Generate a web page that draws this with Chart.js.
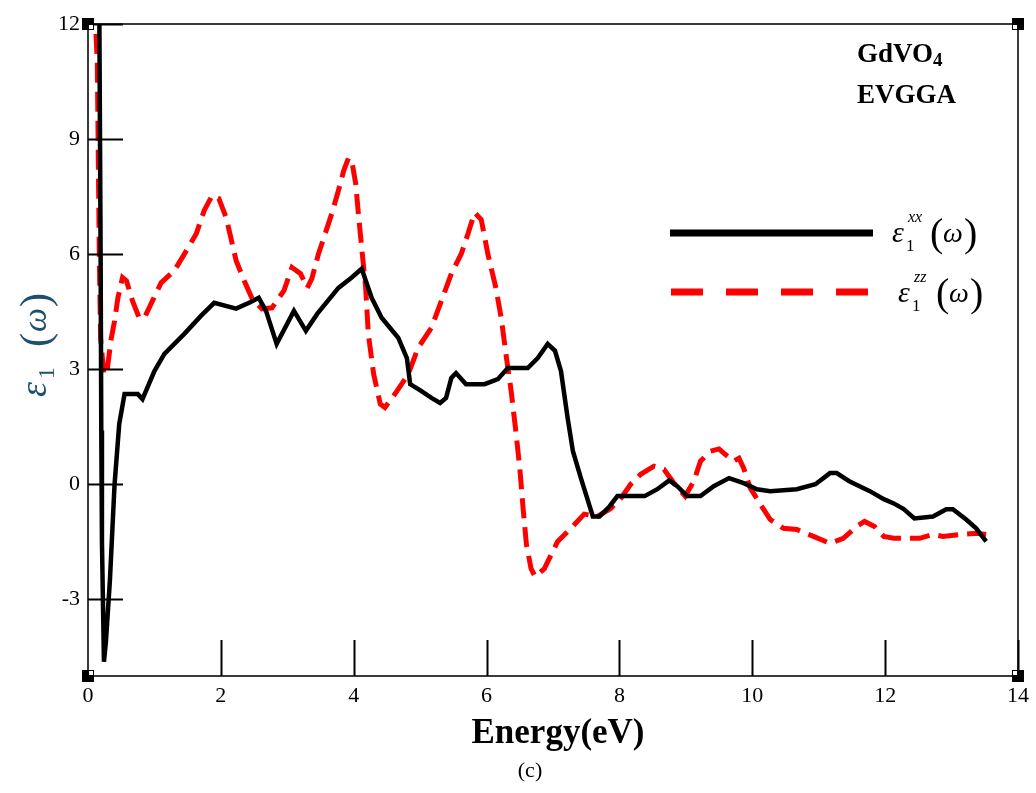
<!DOCTYPE html>
<html>
<head>
<meta charset="utf-8">
<title>GdVO4 EVGGA</title>
<script src="https://cdn.jsdelivr.net/npm/chart.js@4/dist/chart.umd.min.js"></script>
<style>
  html, body { margin: 0; padding: 0; background: #fff; }
  #wrap { width: 1036px; height: 793px; position: relative; }
</style>
</head>
<body>
<div id="wrap"><canvas id="grafica"></canvas></div>
<script>
// eje x y eje y
const X_TICKS = [0, 2, 4, 6, 8, 10, 12, 14];
const Y_TICKS = [-3, 0, 3, 6, 9, 12];

// epsilon_1 xx (linea continua negra)
const xxEnergia = [0.17, 0.19, 0.20, 0.21, 0.24, 0.27, 0.33, 0.40, 0.47, 0.55, 0.75, 0.82, 1.00, 1.15, 1.45, 1.70, 1.90, 2.23, 2.45, 2.57, 2.68, 2.84, 3.10, 3.28, 3.45, 3.77, 3.97, 4.12, 4.27, 4.42, 4.67, 4.80, 4.85, 5.02, 5.17, 5.30, 5.39, 5.47, 5.54, 5.69, 5.97, 6.17, 6.32, 6.62, 6.77, 6.92, 7.03, 7.12, 7.22, 7.30, 7.42, 7.60, 7.70, 7.85, 7.97, 8.38, 8.57, 8.75, 8.87, 9.02, 9.22, 9.42, 9.65, 9.87, 10.07, 10.27, 10.67, 10.95, 11.17, 11.27, 11.46, 11.77, 11.98, 12.13, 12.28, 12.44, 12.72, 12.92, 13.02, 13.22, 13.37, 13.52];
const xxEps = [12.5, 6.0, 1.4, -1.5, -4.63, -4.1, -2.5, 0.0, 1.57, 2.35, 2.35, 2.22, 2.95, 3.40, 3.92, 4.39, 4.73, 4.58, 4.75, 4.86, 4.52, 3.66, 4.52, 4.00, 4.44, 5.12, 5.39, 5.62, 4.86, 4.34, 3.82, 3.29, 2.61, 2.43, 2.25, 2.12, 2.25, 2.77, 2.90, 2.61, 2.61, 2.74, 3.03, 3.03, 3.29, 3.66, 3.48, 2.95, 1.73, 0.86, 0.16, -0.84, -0.84, -0.58, -0.31, -0.31, -0.13, 0.10, -0.05, -0.31, -0.31, -0.05, 0.16, 0.03, -0.13, -0.18, -0.13, 0.0, 0.29, 0.29, 0.08, -0.18, -0.39, -0.50, -0.65, -0.89, -0.84, -0.65, -0.65, -0.92, -1.15, -1.49];

// epsilon_1 zz (linea discontinua roja)
const zzEnergia = [0.10, 0.14, 0.17, 0.19, 0.24, 0.29, 0.35, 0.40, 0.45, 0.52, 0.58, 0.67, 0.77, 0.85, 0.97, 1.10, 1.30, 1.45, 1.63, 1.75, 1.87, 1.97, 2.08, 2.15, 2.23, 2.35, 2.47, 2.62, 2.77, 2.95, 3.07, 3.20, 3.30, 3.37, 3.47, 3.57, 3.67, 3.77, 3.85, 3.92, 3.97, 4.03, 4.07, 4.12, 4.18, 4.22, 4.30, 4.40, 4.47, 4.62, 4.82, 4.97, 5.17, 5.32, 5.47, 5.62, 5.72, 5.82, 5.92, 6.02, 6.14, 6.22, 6.30, 6.37, 6.44, 6.50, 6.55, 6.60, 6.67, 6.73, 6.87, 7.07, 7.27, 7.47, 7.67, 7.87, 8.02, 8.17, 8.32, 8.52, 8.67, 8.82, 8.99, 9.12, 9.22, 9.37, 9.50, 9.57, 9.72, 9.80, 9.87, 9.97, 10.12, 10.27, 10.47, 10.67, 10.92, 11.17, 11.37, 11.57, 11.69, 11.84, 11.98, 12.13, 12.52, 12.72, 12.87, 13.12, 13.37, 13.52];
const zzEps = [12.5, 11.0, 6.0, 3.8, 2.85, 3.0, 3.8, 4.26, 4.86, 5.39, 5.30, 4.78, 4.34, 4.34, 4.78, 5.25, 5.57, 6.00, 6.53, 7.14, 7.53, 7.45, 6.95, 6.43, 5.83, 5.31, 4.84, 4.57, 4.60, 5.05, 5.65, 5.49, 5.12, 5.36, 6.01, 6.53, 7.06, 7.66, 8.18, 8.50, 8.44, 7.84, 7.06, 6.17, 5.12, 3.92, 2.87, 2.09, 2.00, 2.35, 2.87, 3.56, 4.08, 4.78, 5.49, 6.01, 6.53, 7.08, 6.90, 6.00, 5.12, 4.34, 3.29, 2.43, 1.39, 0.42, -0.63, -1.57, -2.20, -2.41, -2.20, -1.49, -1.15, -0.78, -0.84, -0.63, -0.37, 0.0, 0.26, 0.47, 0.39, 0.03, -0.31, 0.08, 0.60, 0.86, 0.92, 0.81, 0.60, 0.68, 0.42, -0.10, -0.52, -0.92, -1.15, -1.18, -1.36, -1.54, -1.41, -1.10, -0.97, -1.10, -1.36, -1.41, -1.41, -1.31, -1.36, -1.31, -1.28, -1.31];

const aPuntos = (xs, ys) => xs.map((x, i) => ({ x: x, y: ys[i] }));

const SERIF = '"Liberation Serif", "Times New Roman", serif';

// marco, marcas interiores, textos y leyenda
const decoracion = {
    id: 'decoracion',
    afterDatasetsDraw(chart) {
        const ctx = chart.ctx;
        const a = chart.chartArea;
        const sx = chart.scales.x;
        const sy = chart.scales.y;
        ctx.save();

        // marco
        ctx.strokeStyle = '#3a3a3a';
        ctx.lineWidth = 2;
        ctx.strokeRect(a.left, a.top, a.right - a.left, a.bottom - a.top);

        // marcas hacia dentro
        ctx.strokeStyle = '#000';
        ctx.lineWidth = 2;
        Y_TICKS.forEach(v => {
            const py = Math.round(sy.getPixelForValue(v)) + 0.5;
            ctx.beginPath();
            ctx.moveTo(a.left, py);
            ctx.lineTo(a.left + 35, py);
            ctx.stroke();
        });
        X_TICKS.slice(1).forEach(v => {
            const px = Math.round(sx.getPixelForValue(v)) + 0.5;
            ctx.beginPath();
            ctx.moveTo(px, a.bottom);
            ctx.lineTo(px, a.bottom - 36);
            ctx.stroke();
        });

        // cuadritos de las esquinas
        [[a.left, a.top], [a.right, a.top], [a.left, a.bottom], [a.right, a.bottom]].forEach(([cx, cy]) => {
            ctx.fillStyle = '#000';
            ctx.fillRect(cx - 6, cy - 6, 12, 12);
            ctx.fillStyle = '#fff';
            ctx.fillRect(cx - (cx === a.left ? -1 : 5), cy - (cy === a.top ? -1 : 5), 4, 4);
        });

        // GdVO4 / EVGGA
        ctx.fillStyle = '#000';
        ctx.textBaseline = 'alphabetic';
        ctx.textAlign = 'left';
        ctx.font = 'bold 27px ' + SERIF;
        ctx.fillText('GdVO', 857, 62);
        const wG = ctx.measureText('GdVO').width;
        ctx.font = 'bold 19px ' + SERIF;
        ctx.fillText('4', 857 + wG, 66);
        ctx.font = 'bold 27px ' + SERIF;
        ctx.fillText('EVGGA', 857, 103);

        // leyenda
        ctx.lineCap = 'butt';
        ctx.strokeStyle = '#000';
        ctx.lineWidth = 7;
        ctx.beginPath();
        ctx.moveTo(670, 233);
        ctx.lineTo(873, 233);
        ctx.stroke();
        ctx.strokeStyle = '#ff0000';
        ctx.setLineDash([32, 23]);
        ctx.beginPath();
        ctx.moveTo(671, 292);
        ctx.lineTo(870, 292);
        ctx.stroke();
        ctx.setLineDash([]);

        const etiqueta = (x, base, sup) => {
            ctx.fillStyle = '#000';
            ctx.font = 'italic 30px ' + SERIF;
            ctx.fillText('\u03b5', x, base);
            ctx.font = '17px ' + SERIF;
            ctx.fillText('1', x + 14, base + 9);
            ctx.font = 'italic 16px ' + SERIF;
            ctx.fillText(sup, x + 16, base - 20);
            ctx.font = '40px ' + SERIF;
            ctx.fillText('(', x + 38, base + 4);
            ctx.font = 'italic 28px ' + SERIF;
            ctx.fillText('\u03c9', x + 51, base);
            ctx.font = '40px ' + SERIF;
            ctx.fillText(')', x + 72, base + 4);
        };
        etiqueta(892, 242, 'xx');
        etiqueta(898, 302, 'zz');

        // titulo del eje y
        ctx.save();
        ctx.translate(46, 335);
        ctx.rotate(-Math.PI / 2);
        ctx.fillStyle = '#1f4f6e';
        ctx.font = 'italic 38px ' + SERIF;
        ctx.fillText('\u03b5', -62, 0);
        ctx.font = '24px ' + SERIF;
        ctx.fillText('1', -44, 8);
        ctx.font = '42px ' + SERIF;
        ctx.fillText('(', -12, 3);
        ctx.font = 'italic 34px ' + SERIF;
        ctx.fillText('\u03c9', 3, 0);
        ctx.font = '42px ' + SERIF;
        ctx.fillText(')', 28, 3);
        ctx.restore();

        // titulo del eje x y (c)
        ctx.fillStyle = '#000';
        ctx.textAlign = 'center';
        ctx.font = 'bold 35px ' + SERIF;
        ctx.fillText('Energy(eV)', 558, 743);
        ctx.font = '22px ' + SERIF;
        ctx.fillText('(c)', 530, 777);

        ctx.restore();
    }
};

const crearGrafica = () => {
    const canvas = document.getElementById('grafica');
    canvas.width = 1036;
    canvas.height = 793;
    const ctx = canvas.getContext('2d');

    new Chart(ctx, {
        type: 'scatter',
        data: {
            datasets: [
                {
                    label: 'eps1 xx',
                    data: aPuntos(xxEnergia, xxEps),
                    showLine: true,
                    borderColor: '#000',
                    borderWidth: 4.5,
                    pointRadius: 0,
                    tension: 0
                },
                {
                    label: 'eps1 zz',
                    data: aPuntos(zzEnergia, zzEps),
                    showLine: true,
                    borderColor: '#ff0000',
                    borderWidth: 5,
                    borderDash: [20, 9],
                    pointRadius: 0,
                    tension: 0
                }
            ]
        },
        options: {
            responsive: false,
            animation: false,
            layout: { padding: { left: 0, top: 24, right: 16, bottom: 0 } },
            plugins: {
                legend: { display: false },
                tooltip: { enabled: false }
            },
            scales: {
                x: {
                    type: 'linear',
                    min: 0,
                    max: 14,
                    afterBuildTicks: s => { s.ticks = X_TICKS.map(v => ({ value: v })); },
                    afterFit: s => { s.height = 117; },
                    grid: { display: false, drawTicks: false },
                    border: { display: false },
                    ticks: {
                        padding: 7,
                        color: '#000',
                        font: { family: SERIF, size: 22 },
                        maxRotation: 0
                    }
                },
                y: {
                    type: 'linear',
                    min: -5,
                    max: 12,
                    afterBuildTicks: s => { s.ticks = Y_TICKS.map(v => ({ value: v })); },
                    afterFit: s => { s.width = 88; },
                    grid: { display: false, drawTicks: false },
                    border: { display: false },
                    ticks: {
                        padding: 8,
                        color: '#000',
                        font: { family: SERIF, size: 22 }
                    }
                }
            }
        },
        plugins: [decoracion]
    });
};

crearGrafica();
</script>
</body>
</html>
